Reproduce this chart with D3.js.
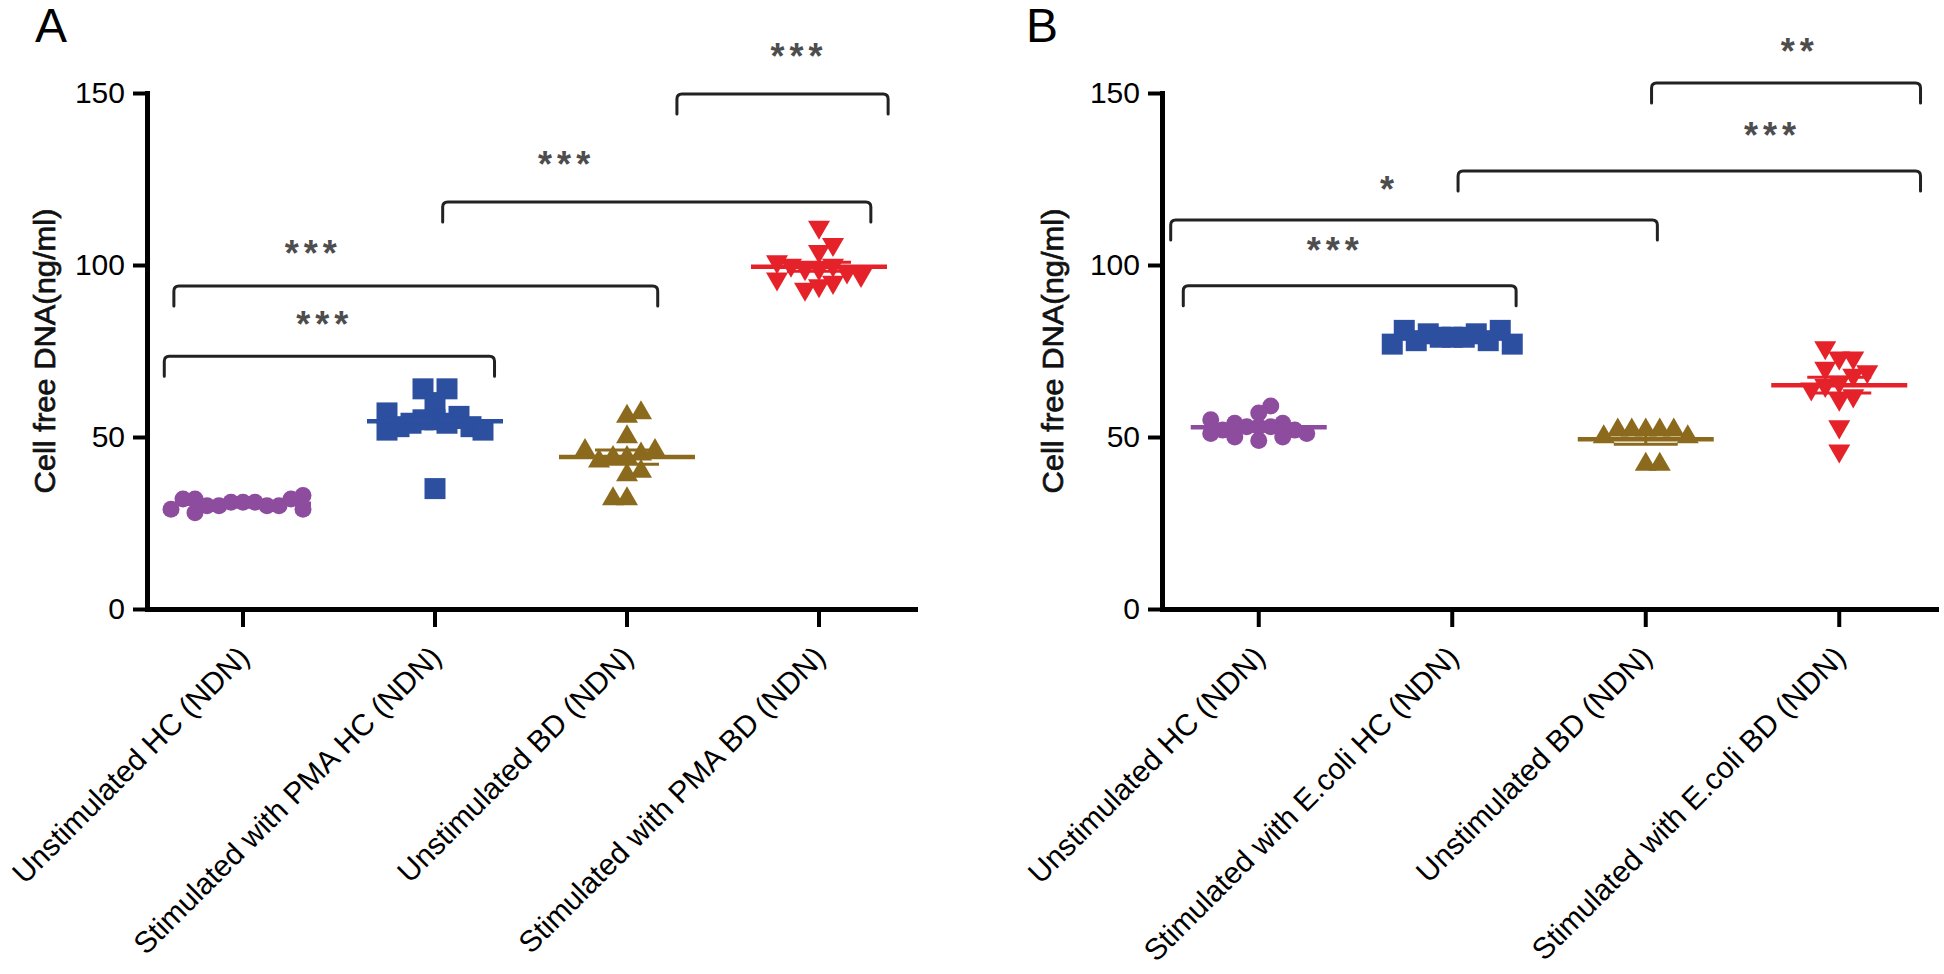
<!DOCTYPE html>
<html>
<head>
<meta charset="utf-8">
<script src="https://cdn.jsdelivr.net/npm/d3@7"></script>
<style>
  html, body { margin: 0; padding: 0; background: #fff; }
  svg { display: block; font-family: "Liberation Sans", Arial, sans-serif; }
</style>
</head>
<body>
<svg id="chart" width="1944" height="974"></svg>
<script>
// ---------------- DATA ----------------
const categoriesA = ["Unstimulated HC (NDN)", "Stimulated with PMA HC (NDN)", "Unstimulated BD (NDN)", "Stimulated with PMA BD (NDN)"];
const categoriesB = ["Unstimulated HC (NDN)", "Stimulated with E.coli HC (NDN)", "Unstimulated BD (NDN)", "Stimulated with E.coli BD (NDN)"];
const yTickValues = [0, 50, 100, 150];
const yTitle = "Cell free DNA(ng/ml)";

// Panel A values (ng/ml)
const aUnstimHC = [33, 32, 32, 32, 31, 31, 31, 30, 30, 30, 30, 29, 29, 28];
const aPmaHC    = [64, 64, 60, 57, 56, 55, 55, 54, 54, 53, 53, 52, 52, 35];
const aUnstimBD = [57, 56, 50, 46, 46, 45, 44, 44, 43, 40, 39, 32, 32];
const aPmaBD    = [111, 106, 104, 101, 100, 100, 99, 99, 98, 97, 96, 95, 94, 93];

// Panel B values (ng/ml)
const bUnstimHC = [59, 57, 55, 54, 54, 53, 53, 53, 52, 52, 51, 51, 50, 50, 49];
const bEcoliHC  = [81, 81, 80, 80, 79, 79, 79, 78, 78, 77, 77];
const bUnstimBD = [52, 52, 52, 52, 52, 50, 50, 42, 42];
const bEcoliBD  = [76, 73, 73, 70, 69, 68, 66, 65, 64, 62, 61, 53, 46];

// Significance brackets: [from (category units), to (category units), level (ng/ml), label, star x (category units), star y (ng/ml)]
const bracketsA = [
  [2.26, 3.36, 149.7, "***", 2.88, 163.0],
  [1.04, 3.27, 118.3, "***", 1.67, 131.7],
  [-0.36, 2.16, 93.9, "***", 0.35, 105.8],
  [-0.41, 1.31, 73.5, "***", 0.41, 85.2]
];
const bracketsB = [
  [2.03, 3.42, 152.9, "**", 2.78, 164.5],
  [1.03, 3.42, 127.3, "***", 2.64, 140.1],
  [-0.455, 2.06, 113.1, "*", 0.66, 124.3],
  [-0.39, 1.33, 94.0, "***", 0.38, 106.7]
];

// ---------------- STYLE ----------------
const colors = ["#8d4c9e", "#2d4fa0", "#8b6a1d", "#e5222a"];
const shapes = ["circle", "square", "triangle", "triangleDown"];

const svg = d3.select("#chart");
svg.append("rect").attr("width", 1944).attr("height", 974).attr("fill", "#fff");

function drawPanel(cfg) {
  const g = svg.append("g");
  const x = d3.scaleBand().domain(cfg.categories).range([cfg.left, cfg.right]).paddingInner(0).paddingOuter(0);
  const y = d3.scaleLinear().domain([0, 150]).range([cfg.bottom, cfg.top]);
  const centers = cfg.categories.map(c => x(c) + x.bandwidth() / 2);
  const xc = d3.scaleLinear().domain([0, cfg.categories.length - 1]).range([centers[0], centers[centers.length - 1]]);

  // panel letter
  g.append("text").attr("x", cfg.letterX).attr("y", 42)
    .attr("font-size", 48).attr("fill", "#000").text(cfg.letter);

  // y axis
  const yAxis = d3.axisLeft(y).tickValues(yTickValues).tickSize(14).tickSizeOuter(0).tickPadding(8);
  const ya = g.append("g").attr("transform", `translate(${cfg.left},0)`).call(yAxis);
  ya.select(".domain").attr("stroke", "#000").attr("stroke-width", 5).attr("stroke-linecap", "square");
  ya.selectAll(".tick line").attr("stroke", "#000").attr("stroke-width", 4);
  ya.selectAll(".tick text").attr("font-size", 30).attr("fill", "#000")
    .attr("font-family", "Liberation Sans, Arial, sans-serif");

  // x axis
  const xAxis = d3.axisBottom(x).tickSize(18).tickSizeOuter(0).tickFormat("");
  const xa = g.append("g").attr("transform", `translate(0,${cfg.bottom})`).call(xAxis);
  xa.select(".domain").attr("stroke", "#000").attr("stroke-width", 5).attr("stroke-linecap", "square");
  xa.selectAll(".tick line").attr("stroke", "#000").attr("stroke-width", 4);

  // rotated category labels
  g.selectAll(".xlab").data(cfg.categories).enter().append("text")
    .attr("class", "xlab")
    .attr("transform", d => `translate(${x(d) + x.bandwidth() / 2 + 8},${cfg.bottom + 50}) rotate(-45)`)
    .attr("text-anchor", "end")
    .attr("font-size", 30)
    .attr("fill", "#000")
    .text(d => d);

  // y title
  g.append("text")
    .attr("transform", `translate(${cfg.titleX},${(cfg.top + cfg.bottom) / 2}) rotate(-90)`)
    .attr("text-anchor", "middle")
    .attr("dy", "0.35em")
    .attr("font-size", 29)
    .attr("textLength", 285)
    .attr("lengthAdjust", "spacingAndGlyphs")
    .attr("fill", "#111")
    .attr("stroke", "#111")
    .attr("stroke-width", 0.7)
    .text(yTitle);

  // data
  cfg.series.forEach((vals, i) => {
    const cx = centers[i];
    const shape = shapes[i];
    const mw = shape === "circle" ? 16 : shape === "square" ? 21 : 22;
    const mh = shape === "circle" ? 16 : shape === "square" ? 21 : 19;
    const fw = shape === "circle" ? 0.7 : shape === "square" ? 0.55 : 0.62;
    // greedy beeswarm
    const m = d3.median(vals);
    const pts = vals.map(v => ({ v, py: y(v) }));
    const order = pts.slice().sort((a, b) => Math.abs(a.v - m) - Math.abs(b.v - m));
    const placed = [];
    const cw = mw * fw, ch = mh * 0.8;
    order.forEach((p, idx) => {
      let dx = null;
      for (let k = 0; k < 400 && dx === null; k++) {
        const cands = k === 0 ? [0] : (idx % 2 ? [-k, k] : [k, -k]);
        for (const c of cands) {
          if (!placed.some(q => Math.abs(q.dx - c) < cw && Math.abs(q.py - p.py) < ch)) { dx = c; break; }
        }
      }
      p.dx = dx; placed.push(p);
    });

    const col = colors[i];
    const sym = d3.symbol();
    pts.forEach(p => {
      let path, rot = 0;
      if (shape === "circle") path = sym.type(d3.symbolCircle).size(Math.PI * 8.5 * 8.5)();
      else if (shape === "square") path = sym.type(d3.symbolSquare).size(21 * 21)();
      else { path = sym.type(d3.symbolTriangle).size(22 * 22 * Math.sqrt(3) / 4)(); if (shape === "triangleDown") rot = 180; }
      g.append("path")
        .attr("d", path)
        .attr("transform", `translate(${cx + p.dx},${p.py}) rotate(${rot})`)
        .attr("fill", col);
    });

    // mean and SEM
    const mean = d3.mean(vals);
    const sem = d3.deviation(vals) / Math.sqrt(vals.length);
    g.append("line").attr("x1", cx - 68).attr("x2", cx + 68)
      .attr("y1", y(mean)).attr("y2", y(mean))
      .attr("stroke", col).attr("stroke-width", 4.5);
    [mean - sem, mean + sem].forEach(v => {
      g.append("line").attr("x1", cx - 32).attr("x2", cx + 32)
        .attr("y1", y(v)).attr("y2", y(v))
        .attr("stroke", col).attr("stroke-width", 3);
    });
    g.append("line").attr("x1", cx).attr("x2", cx)
      .attr("y1", y(mean - sem)).attr("y2", y(mean + sem))
      .attr("stroke", col).attr("stroke-width", 3);
  });

  // brackets
  cfg.brackets.forEach(b => {
    const x1 = xc(b[0]), x2 = xc(b[1]), yt = y(b[2]);
    const leg = 20, r = 5;
    const p = `M${x1},${yt + leg} V${yt + r} Q${x1},${yt} ${x1 + r},${yt} H${x2 - r} Q${x2},${yt} ${x2},${yt + r} V${yt + leg}`;
    g.append("path").attr("d", p).attr("fill", "none")
      .attr("stroke", "#222").attr("stroke-width", 3).attr("stroke-linecap", "round");
    g.append("text")
      .attr("x", xc(b[4]) + 3).attr("y", y(b[5]) + 21)
      .attr("text-anchor", "middle")
      .attr("font-size", 36).attr("font-weight", "bold")
      .attr("letter-spacing", 5)
      .attr("fill", "#4d4d4d")
      .text(b[3]);
  });
}

drawPanel({
  letter: "A", letterX: 35,
  categories: categoriesA,
  series: [aUnstimHC, aPmaHC, aUnstimBD, aPmaBD],
  brackets: bracketsA,
  left: 147, right: 915, top: 93, bottom: 609, titleX: 45
});
drawPanel({
  letter: "B", letterX: 1026,
  categories: categoriesB,
  series: [bUnstimHC, bEcoliHC, bUnstimBD, bEcoliBD],
  brackets: bracketsB,
  left: 1162, right: 1936, top: 93, bottom: 609, titleX: 1053
});
</script>
</body>
</html>
